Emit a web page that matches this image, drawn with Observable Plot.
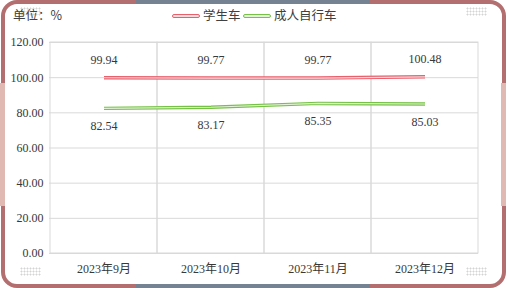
<!DOCTYPE html>
<html>
<head>
<meta charset="utf-8">
<script src="https://cdn.jsdelivr.net/npm/d3@7"></script>
<script src="https://cdn.jsdelivr.net/npm/@observablehq/plot@0.6"></script>
<style>
  html, body { margin: 0; padding: 0; background: #fff; }
  #wrap { position: relative; width: 508px; height: 288px; overflow: hidden; }
  .frame { position: absolute; left: 1px; top: 0; width: 505px; height: 288px; box-sizing: border-box;
           border: 4px solid #b36f6f; border-radius: 16px; }
  .seg { position: absolute; }
  .dots { position: absolute; width: 21px; height: 9px;
          background-image: radial-gradient(circle, #d4d4d4 0.9px, transparent 1.1px);
          background-size: 3px 3px; }
  .txt { position: absolute; font-family: "Noto Sans CJK SC", "Noto Sans", sans-serif; font-size: 12.5px; color: #404040; line-height: 1; white-space: nowrap; }
  .icon { position: absolute; height: 2px; width: 26px; border-radius: 2px; }
  #chart { position: absolute; left: 0; top: 0; }
</style>
</head>
<body>
<div id="wrap">
  <div class="frame"></div>
  <div class="seg" style="left:136px;top:0;width:234px;height:4px;background:#748291"></div>
  <div class="seg" style="left:136px;top:284px;width:234px;height:4px;background:#748291"></div>
  <div class="seg" style="left:0;top:83px;width:5px;height:123px;background:#e1b9b3"></div>
  <div class="seg" style="left:501px;top:83px;width:5px;height:123px;background:#e1b9b3"></div>
  <div class="dots" style="left:20px;top:7px"></div>
  <div class="dots" style="left:466px;top:7px"></div>
  <div class="dots" style="left:20px;top:267px"></div>
  <div class="dots" style="left:466px;top:267px"></div>
  <div id="chart"></div>
  <div class="txt" style="left:13px;top:9px">单位：%</div>
  <div id="legend"></div>
</div>
<script>
const months = ["2023年9月", "2023年10月", "2023年11月", "2023年12月"];
const studentBike = [99.94, 99.77, 99.77, 100.48];
const adultBike = [82.54, 83.17, 85.35, 85.03];
const yTicks = [0, 20, 40, 60, 80, 100, 120];
const seriesNames = ["学生车", "成人自行车"];
const seriesColors = ["#e8606c", "#76c146"];
const seriesInner = ["#f8d9dc", "#e2f2d6"];

const rows = months.map((m, i) => ({month: m, student: studentBike[i], adult: adultBike[i]}));
const grid = "#d9d9d9";

const chart = Plot.plot({
  width: 508,
  height: 288,
  marginLeft: 49,
  marginRight: 30,
  marginTop: 42,
  marginBottom: 35,
  style: {fontFamily: "'Liberation Serif', 'Noto Sans CJK SC', serif", fontSize: "12px", color: "#383838", background: "transparent"},
  x: {type: "band", domain: months, padding: 0, label: null, tickSize: 0, tickPadding: 11},
  y: {domain: [0, 120], ticks: yTicks, tickFormat: d => d.toFixed(2), tickSize: 0, tickPadding: 6, label: null},
  marks: [
    Plot.ruleY(yTicks, {stroke: grid}),
    Plot.barY(months, {x: d => d, y1: 0, y2: 120, fill: "none", stroke: grid}),
    Plot.line(rows, {x: "month", y: "student", stroke: seriesColors[0], strokeWidth: 3.4, strokeLinecap: "butt"}),
    Plot.line(rows, {x: "month", y: "student", stroke: seriesInner[0], strokeWidth: 1.2, strokeLinecap: "butt"}),
    Plot.line(rows, {x: "month", y: "adult", stroke: seriesColors[1], strokeWidth: 3.4, strokeLinecap: "butt"}),
    Plot.line(rows, {x: "month", y: "adult", stroke: seriesInner[1], strokeWidth: 1.2, strokeLinecap: "butt"}),
    Plot.text(rows, {x: "month", y: "student", text: d => d.student.toFixed(2), dy: -18, fill: "#383838"}),
    Plot.text(rows, {x: "month", y: "adult", text: d => d.adult.toFixed(2), dy: 18, fill: "#383838"})
  ]
});
document.getElementById("chart").appendChild(chart);

// legend
const legend = document.getElementById("legend");
const legendPos = [{icon: 172, text: 203}, {icon: 243, text: 274}];
seriesNames.forEach((name, i) => {
  const ic = document.createElement("div");
  ic.className = "icon";
  ic.style.left = legendPos[i].icon + "px";
  ic.style.top = "14px";
  ic.style.border = "1px solid " + seriesColors[i];
  ic.style.background = seriesInner[i];
  legend.appendChild(ic);
  const t = document.createElement("div");
  t.className = "txt";
  t.style.left = legendPos[i].text + "px";
  t.style.top = "9px";
  t.textContent = name;
  legend.appendChild(t);
});
</script>
</body>
</html>
